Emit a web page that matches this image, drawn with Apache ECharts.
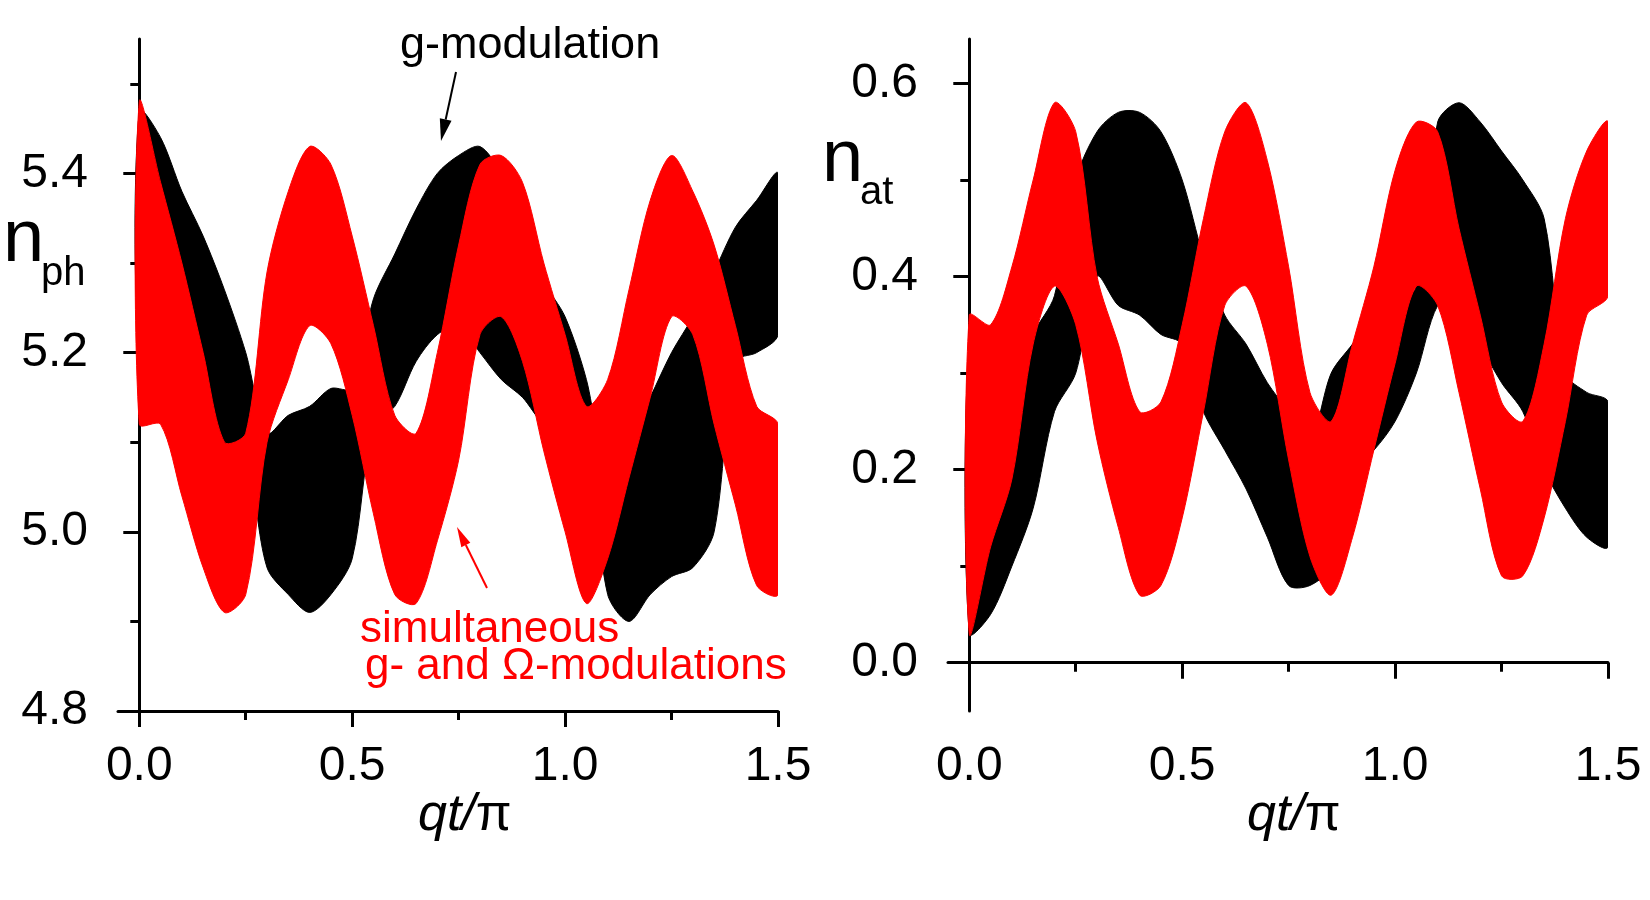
<!DOCTYPE html>
<html>
<head>
<meta charset="utf-8">
<script src="https://cdn.jsdelivr.net/npm/echarts@6/dist/echarts.min.js"></script>
<style>
  html, body { margin: 0; padding: 0; background: #fff; }
  #chart { width: 1650px; height: 900px; }
</style>
</head>
<body>
<div id="chart"></div>
<script>
// time axis qt/pi, shared by both panels
const qt = [0, 0.05, 0.1, 0.15, 0.2, 0.25, 0.3, 0.35, 0.4, 0.45, 0.5, 0.55, 0.6, 0.65, 0.7, 0.75,
  0.8, 0.85, 0.9, 0.95, 1.0, 1.05, 1.1, 1.15, 1.2, 1.25, 1.3, 1.35, 1.4, 1.45, 1.5]

// photon number, envelope (min / max of the fast oscillation)
const phGLo = [5.2, 5.2, 5.16, 5.11, 5.08, 5.08, 4.96, 4.93, 4.91, 4.93, 4.97, 5.12, 5.14, 5.19, 5.22, 5.23,
  5.2, 5.17, 5.15, 5.12, 5.11, 5.1, 4.93, 4.9, 4.93, 4.95, 4.96, 5.0, 5.19, 5.2, 5.22]
const phGHi = [5.47, 5.44, 5.38, 5.33, 5.27, 5.2, 5.11, 5.13, 5.14, 5.16, 5.16, 5.26, 5.31, 5.36, 5.4, 5.42,
  5.43, 5.4, 5.35, 5.28, 5.24, 5.17, 5.06, 5.1, 5.15, 5.2, 5.24, 5.29, 5.34, 5.37, 5.4]
const phSLo = [5.12, 5.12, 5.04, 4.96, 4.91, 4.93, 5.1, 5.17, 5.23, 5.21, 5.13, 5.02, 4.93, 4.92, 4.99, 5.08,
  5.22, 5.24, 5.19, 5.09, 5.0, 4.92, 4.97, 5.06, 5.15, 5.24, 5.22, 5.12, 5.03, 4.94, 4.93]
const phSHi = [5.48, 5.39, 5.3, 5.2, 5.1, 5.11, 5.29, 5.38, 5.43, 5.41, 5.33, 5.23, 5.13, 5.11, 5.2, 5.32,
  5.41, 5.42, 5.39, 5.3, 5.22, 5.14, 5.17, 5.27, 5.37, 5.42, 5.38, 5.32, 5.23, 5.14, 5.12]

// atomic excitation, envelope
const atGLo = [0.03, 0.05, 0.1, 0.16, 0.26, 0.3, 0.4, 0.37, 0.36, 0.34, 0.33, 0.26, 0.22, 0.18, 0.13, 0.08,
  0.08, 0.1, 0.2, 0.22, 0.25, 0.3, 0.37, 0.38, 0.33, 0.29, 0.26, 0.2, 0.16, 0.13, 0.12]
const atGHi = [0.33, 0.3, 0.27, 0.34, 0.38, 0.5, 0.55, 0.57, 0.57, 0.55, 0.5, 0.42, 0.36, 0.33, 0.29, 0.26,
  0.23, 0.3, 0.33, 0.36, 0.37, 0.39, 0.56, 0.58, 0.56, 0.53, 0.5, 0.46, 0.3, 0.28, 0.27]
const atSLo = [0.03, 0.12, 0.19, 0.33, 0.39, 0.35, 0.23, 0.14, 0.07, 0.08, 0.15, 0.26, 0.37, 0.39, 0.33, 0.21,
  0.11, 0.07, 0.13, 0.22, 0.31, 0.39, 0.37, 0.28, 0.18, 0.09, 0.09, 0.15, 0.25, 0.36, 0.38]
const atSHi = [0.36, 0.35, 0.41, 0.5, 0.58, 0.55, 0.4, 0.33, 0.26, 0.27, 0.35, 0.46, 0.55, 0.58, 0.52, 0.41,
  0.28, 0.25, 0.33, 0.41, 0.51, 0.56, 0.55, 0.45, 0.36, 0.27, 0.25, 0.33, 0.46, 0.53, 0.56]

// ticks
const xMajor = [0, 0.5, 1.0, 1.5]
const xMinor = [0.25, 0.75, 1.25]
const phMajor = [4.8, 5.0, 5.2, 5.4]
const phMinor = [4.9, 5.1, 5.3, 5.5]
const atMajor = [0.0, 0.2, 0.4, 0.6]
const atMinor = [0.1, 0.3, 0.5]

const FONT = '"Liberation Sans", Arial, sans-serif'
const AX = { color: '#000', width: 3 }

const chart = echarts.init(document.getElementById('chart'), null, { renderer: 'canvas' })

function xAxes(grid) {
  const base = { type: 'value', gridIndex: grid, min: -0.05, max: 1.5, position: 'bottom', splitLine: { show: false } }
  return [
    { ...base,
      axisLine: { show: true, lineStyle: AX },
      axisTick: { show: true, inside: false, length: 16, lineStyle: AX, customValues: xMajor },
      axisLabel: { show: true, customValues: xMajor, margin: 32, fontSize: 48, fontFamily: FONT, color: '#000',
        formatter: v => v.toFixed(1) } },
    { ...base,
      axisLine: { show: false },
      axisTick: { show: true, inside: false, length: 9, lineStyle: AX, customValues: xMinor },
      axisLabel: { show: false } }
  ]
}

function yAxes(grid, min, max, major, minor) {
  const base = { type: 'value', gridIndex: grid, min, max, position: 'left', splitLine: { show: false } }
  return [
    { ...base,
      axisLine: { show: true, lineStyle: AX },
      axisTick: { show: true, inside: false, length: 16, lineStyle: AX, customValues: major },
      axisLabel: { show: true, customValues: major, margin: 30, fontSize: 48, fontFamily: FONT, color: '#000',
        formatter: v => v.toFixed(1) } },
    { ...base,
      axisLine: { show: false },
      axisTick: { show: true, inside: false, length: 9, lineStyle: AX, customValues: minor },
      axisLabel: { show: false } }
  ]
}

// oscillation band between lo and hi, drawn as one smoothed polygon
// (points collected through api.coord, polygon emitted at the last row)
function band(name, grid, lo, hi, color) {
  const rows = qt.map((x, i) => [x, lo[i], hi[i]])
  let pts = []
  return {
    type: 'custom', name, xAxisIndex: grid * 2, yAxisIndex: grid * 2, silent: true, clip: true,
    encode: { x: 0, y: [1, 2] },
    data: rows,
    renderItem: (params, api) => {
      const i = params.dataIndex
      if (i === 0) pts = []
      pts[i] = [api.coord([api.value(0), api.value(1)]), api.coord([api.value(0), api.value(2)])]
      if (i !== rows.length - 1) return null
      const poly = pts.map(p => p[0]).concat(pts.map(p => p[1]).reverse())
      return { type: 'polygon', shape: { points: poly, smooth: 0.3 },
        style: { fill: color, stroke: color, lineWidth: 1 } }
    }
  }
}

function text(str, x, y, size, color) {
  return { type: 'text', x, y, silent: true, z: 100,
    style: { text: str, fill: color, font: size + 'px ' + FONT, verticalAlign: 'middle', align: 'left' } }
}

function arrow(tail, tip, color, headLen, headW, lw) {
  const dx = tip[0] - tail[0], dy = tip[1] - tail[1]
  const L = Math.hypot(dx, dy), ux = dx / L, uy = dy / L
  const bx = tip[0] - ux * headLen, by = tip[1] - uy * headLen
  return [
    { type: 'line', silent: true, z: 100, shape: { x1: tail[0], y1: tail[1], x2: bx, y2: by },
      style: { stroke: color, lineWidth: lw } },
    { type: 'polygon', silent: true, z: 100,
      shape: { points: [tip, [bx - uy * headW, by + ux * headW], [bx + uy * headW, by - ux * headW]] },
      style: { fill: color } }
  ]
}

function xTitle(x) {
  return { type: 'text', x, y: 816, silent: true, z: 100,
    style: { text: '{i|qt/}{n|π}', verticalAlign: 'middle',
      rich: { i: { fontSize: 52, fontStyle: 'italic', fontFamily: FONT, fill: '#000' },
              n: { fontSize: 52, fontFamily: FONT, fill: '#000' } } } }
}

chart.setOption({
  backgroundColor: '#fff',
  animation: false,
  grid: [
    { left: 118, top: 39, width: 660, height: 672 },
    { left: 948, top: 39, width: 660, height: 672 }
  ],
  xAxis: [...xAxes(0), ...xAxes(1)],
  yAxis: [...yAxes(0, 4.8, 5.55, phMajor, phMinor), ...yAxes(1, -0.05, 0.646, atMajor, atMinor)],
  series: [
    band('phG', 0, phGLo, phGHi, '#000000'),
    band('phS', 0, phSLo, phSHi, '#ff0000'),
    band('atG', 1, atGLo, atGHi, '#000000'),
    band('atS', 1, atSLo, atSHi, '#ff0000')
  ],
  graphic: [
    text('g-modulation', 400, 46, 45, '#000'),
    ...arrow([456, 72], [441, 141], '#000', 22, 6, 2),
    text('simultaneous', 360, 630, 44, '#ff0000'),
    text('g- and Ω-modulations', 365, 667, 44, '#ff0000'),
    ...arrow([487, 588], [457, 527], '#ff0000', 20, 5, 2),
    text('n', 3, 241, 74, '#000'),
    text('ph', 41, 274, 40, '#000'),
    text('n', 822, 161, 74, '#000'),
    text('at', 860, 193, 40, '#000'),
    xTitle(418),
    xTitle(1247)
  ]
})

window.addEventListener('resize', () => chart.resize())
</script>
</body>
</html>
